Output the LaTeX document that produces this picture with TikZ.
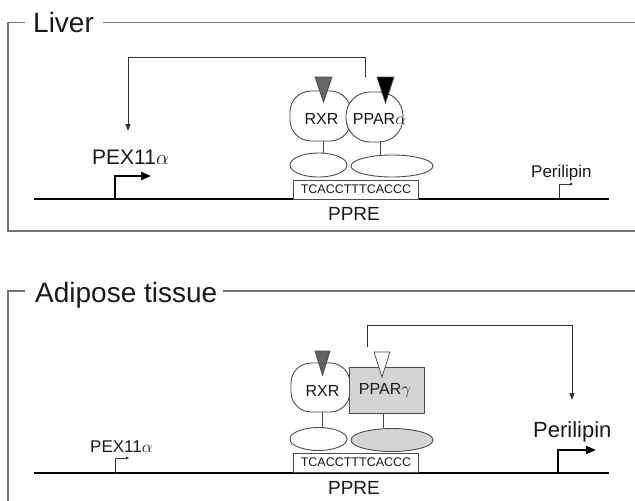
\documentclass[tikz,border=0pt]{standalone}
\usepackage{fontspec}
\setmainfont{Liberation Sans}
\usetikzlibrary{arrows.meta,shapes.geometric}
\begin{document}
\begin{tikzpicture}[x=1pt,y=-1pt,
  framel/.style={draw=black!55, line width=1.4pt},
  dna/.style={draw=black, line width=2.6pt},
  lbl/.style={inner sep=0pt, text=black!90},
  prot/.style={draw=black!70, line width=0.9pt, fill=white, inner sep=0pt},
  stem/.style={draw=black!70, line width=0.9pt},
  pbox/.style={draw=black!70, line width=0.9pt, fill=white, inner sep=0pt, minimum width=125pt, minimum height=19pt},
  ell/.style={ellipse, prot},
  lig/.style={draw=black!70, line width=0.8pt},
  callarrow/.style={draw=black!80, line width=0.9pt, -{Triangle[length=7pt,width=5pt]}},
  bigprom/.style={draw=black, line width=2pt, -{Triangle[length=10pt,width=8pt]}},
  smallprom/.style={draw=black!80, line width=0.8pt, -{Triangle[length=3pt,width=3pt]}},
  ttl/.style={inner sep=0pt, font=\fontsize{28}{32}\selectfont, text=black!90}
]
\useasboundingbox (0,0) rectangle (635,501);

% ---------------- Liver panel ----------------
\node[ttl, anchor=base west] (livt) at (33,32) {Liver};
\coordinate (lf1) at (8,231);
\coordinate (lf2) at (8,22.5);
\coordinate (lf3) at (25,22.5);
\coordinate (lf4) at (103,22.5);
\coordinate (lf5) at (635,22.5);
\coordinate (lf6) at (635,231);
\draw[framel] (lf6) -- (lf1) -- (lf2) -- (lf3);
\draw[framel] (lf4) -- (lf5);

\coordinate (ld1) at (34,199);
\coordinate (ld2) at (609,199);
\draw[dna] (ld1) -- (ld2);

% promoters
\coordinate (lp1) at (115,200);
\coordinate (lp1e) at (151,176);
\draw[bigprom] (lp1) |- (lp1e);
\node[lbl, anchor=base west, font=\fontsize{21}{25}\selectfont] (lpex) at (92,164) {PEX11$\alpha$};
\coordinate (lp2) at (559,199);
\coordinate (lp2e) at (573,184);
\draw[smallprom] (lp2) |- (lp2e);
\node[lbl, anchor=base west, font=\fontsize{17}{20}\selectfont] (lper) at (531,177) {Perilipin};

% PPRE
\node[pbox] (lbox) at (355.5,189.5) {};
\node[lbl, font=\fontsize{12.5}{14}\selectfont] (lseq) at (356,189) {TCACCTTTCACCC};
\node[lbl, anchor=base, font=\fontsize{19}{22}\selectfont] (lppre) at (354,220) {PPRE};

% stems and DNA-binding domains
\draw[stem] (323,141) -- (323,153);
\draw[stem] (380,142) -- (380,155);
\node[ell, minimum width=57pt, minimum height=24pt] (lrxrd) at (318.5,165) {};
\node[ell, minimum width=82pt, minimum height=22pt] (lppard) at (392,166) {};

% receptors
\node[prot, rounded corners=21pt, minimum width=61pt, minimum height=50pt] (lrxr) at (320.5,116) {};
\node[prot, rounded corners=24pt, minimum width=57pt, minimum height=50pt] (lppar) at (374.5,117) {};
\node[lbl, font=\fontsize{16}{19}\selectfont] (lrxrt) at (321.5,118.5) {RXR};
\node[lbl, font=\fontsize{16}{19}\selectfont] (lppart) at (379.5,118.5) {PPAR$\alpha$};

% ligands
\draw[lig, fill=black!60] (315,77) -- (332,77) -- (323.5,102) -- cycle;
\draw[lig, fill=black] (377,77) -- (394,77) -- (385.5,103) -- cycle;

% activation arrow
\coordinate (la0) at (365,77);
\coordinate (la1) at (128,131);
\draw[callarrow] (la0) -- (365,57) -| (la1);

% ---------------- Adipose panel ----------------
\node[ttl, anchor=base west] (adit) at (35,302) {Adipose tissue};
\coordinate (af1) at (8,501);
\coordinate (af2) at (8,291);
\coordinate (af3) at (25,291);
\coordinate (af4) at (223,291);
\coordinate (af5) at (635,291);
\draw[framel] (af1) -- (af2) -- (af3);
\draw[framel] (af4) -- (af5);

\coordinate (ad1) at (34,473);
\coordinate (ad2) at (609,473);
\draw[dna] (ad1) -- (ad2);

\coordinate (ap1) at (115,473);
\coordinate (ap1e) at (129,458);
\draw[smallprom] (ap1) |- (ap1e);
\node[lbl, anchor=base west, font=\fontsize{17}{20}\selectfont] (apex) at (90,452) {PEX11$\alpha$};
\coordinate (ap2) at (558,474);
\coordinate (ap2e) at (596,450);
\draw[bigprom] (ap2) |- (ap2e);
\node[lbl, anchor=base west, font=\fontsize{22}{26}\selectfont] (aper) at (533,437) {Perilipin};

\node[pbox] (abox) at (355.5,463) {};
\node[lbl, font=\fontsize{12.5}{14}\selectfont] (aseq) at (356,462.5) {TCACCTTTCACCC};
\node[lbl, anchor=base, font=\fontsize{19}{22}\selectfont] (appre) at (354,494) {PPRE};

\draw[stem] (322,412) -- (322,427);
\draw[stem] (383,413) -- (383,428);
\node[ell, minimum width=57pt, minimum height=23pt] (arxrd) at (318.5,439) {};
\node[ell, fill=black!17, minimum width=82pt, minimum height=23pt] (appard) at (392,440) {};

\node[prot, rounded corners=20pt, minimum width=59pt, minimum height=49pt] (arxr) at (320.5,387.5) {};
\node[prot, fill=black!17, minimum width=75pt, minimum height=46pt] (appar) at (386.5,390) {};
\node[lbl, font=\fontsize{16}{19}\selectfont] (arxrt) at (322.5,390.5) {RXR};
\node[lbl, font=\fontsize{16}{19}\selectfont] (appart) at (385,390.5) {PPAR$\gamma$};

\draw[lig, fill=black!62] (315,351) -- (330,351) -- (322.5,375) -- cycle;
\draw[lig, fill=white] (374,352) -- (390,352) -- (382,377) -- cycle;

\coordinate (aa0) at (367,347);
\coordinate (aa1) at (572,400);
\draw[callarrow] (aa0) -- (367,325) -| (aa1);
\end{tikzpicture}
\end{document}
